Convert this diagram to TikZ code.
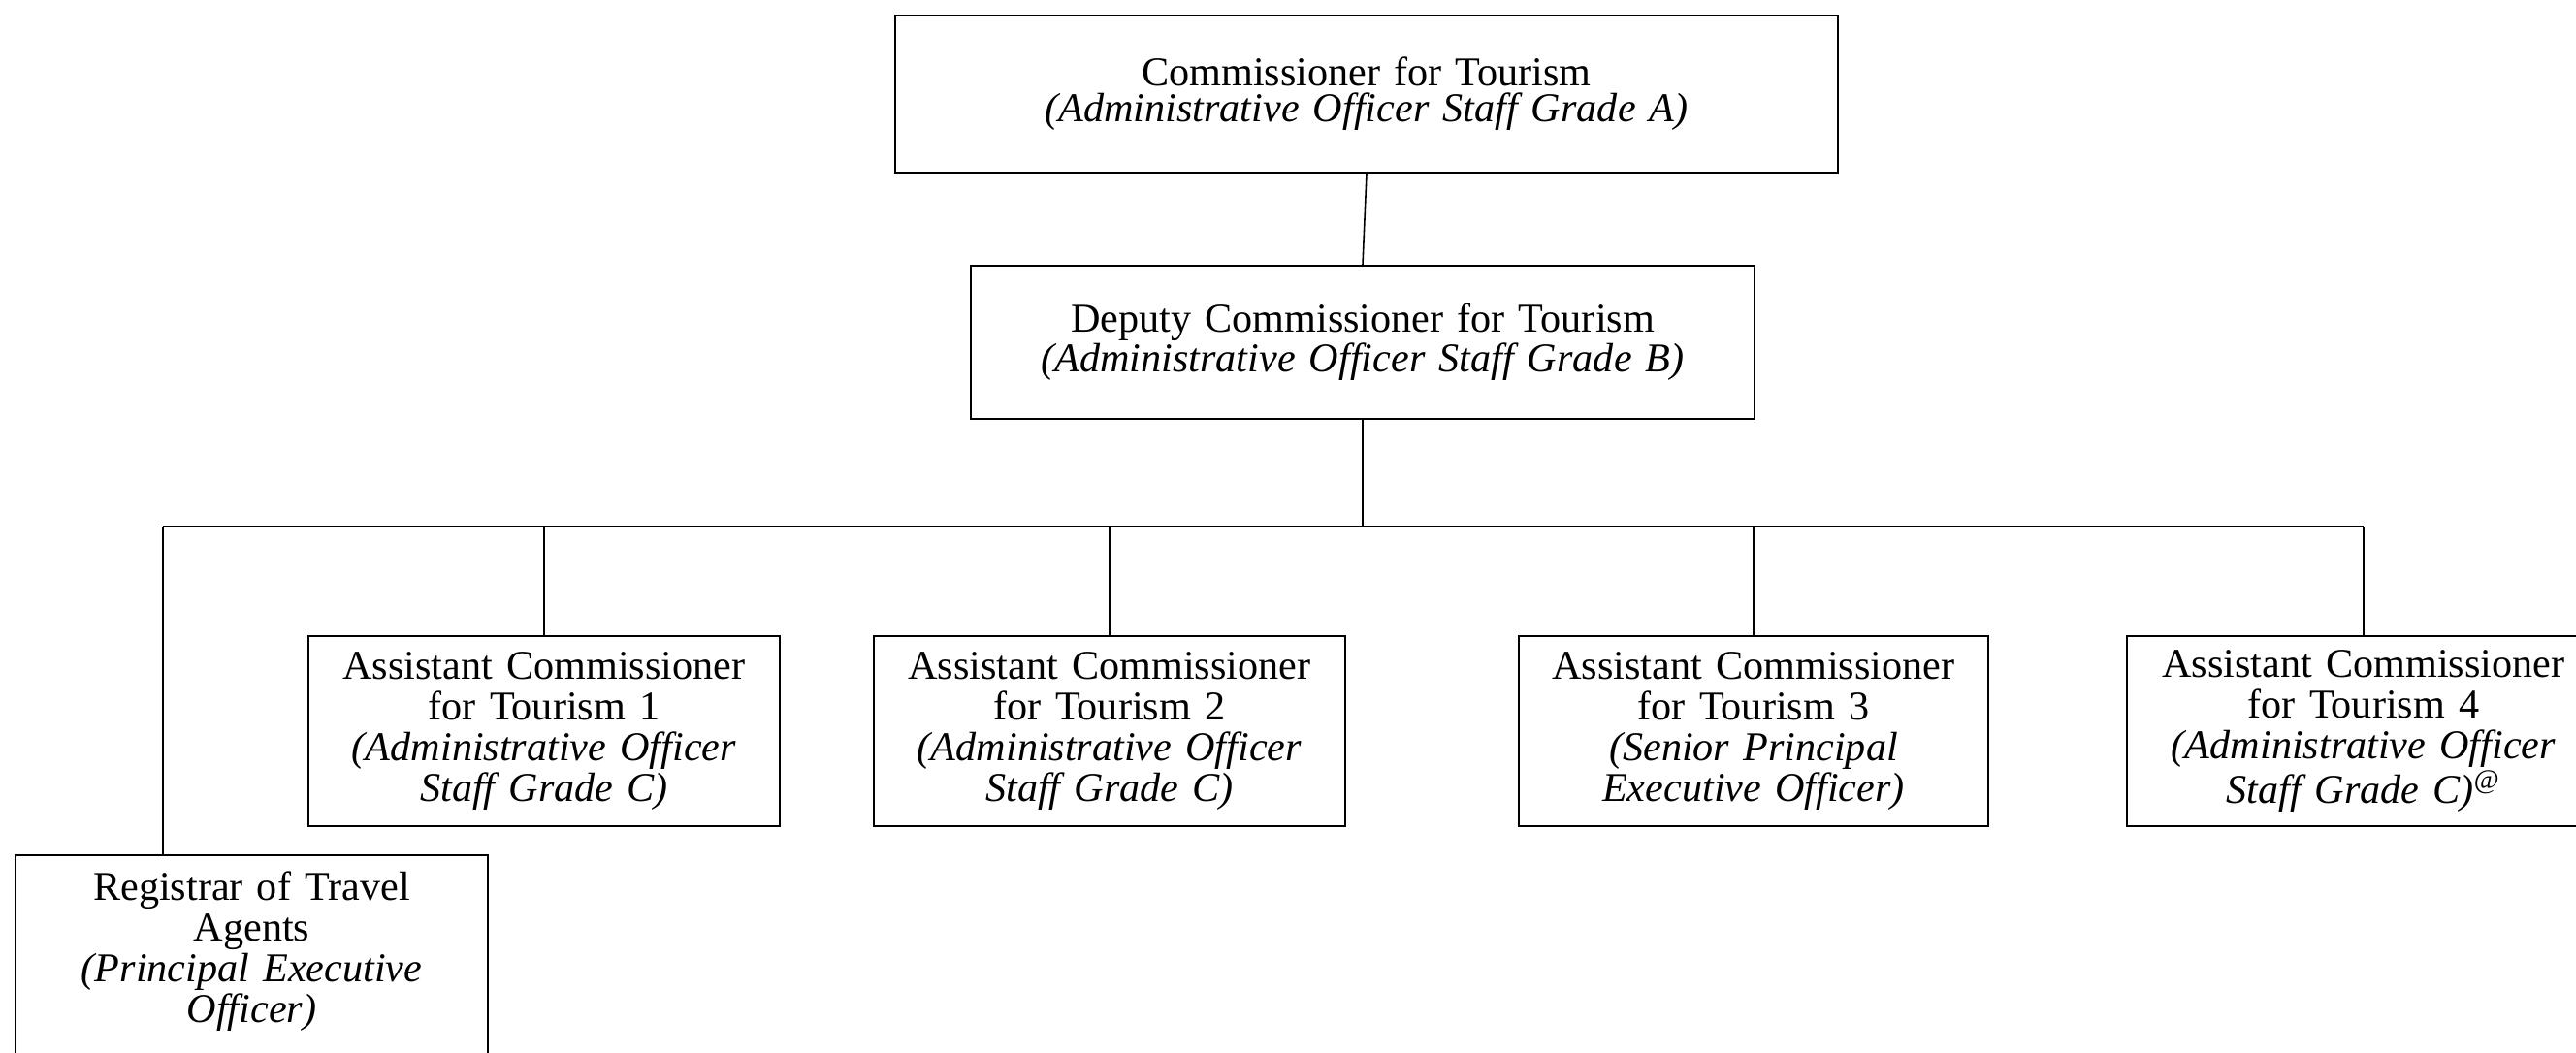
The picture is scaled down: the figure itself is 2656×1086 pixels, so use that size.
\documentclass[tikz,border=0pt]{standalone}
\usepackage{fontspec}
\setmainfont{Liberation Serif}
\usetikzlibrary{positioning}
\tikzset{orgbox/.style={draw, line width=.6pt, inner sep=0pt, align=center, font=\fontsize{12pt}{11.9pt}\selectfont}}
\tikzset{acbox/.style={orgbox, minimum width=4.86cm, text width=4.86cm, minimum height=1.96cm}}
\tikzset{link/.style={line width=.45pt}}

\begin{document}
\begin{tikzpicture}[x=0.01cm, y=-0.01cm]
  \useasboundingbox (0,0) rectangle (2656,1086);
  % top levels
  \node[orgbox, minimum width=9.72cm, text width=9.72cm, minimum height=1.62cm,
        font=\fontsize{12pt}{10.5pt}\selectfont] (comm) at (1409,97)
    {Commissioner for Tourism\\ \textit{(Administrative Officer Staff Grade A)}};
  \node[orgbox, minimum width=8.07cm, text width=8.07cm, minimum height=1.58cm,
        font=\fontsize{12pt}{11.6pt}\selectfont] (deputy) at (1405,353)
    {Deputy Commissioner for Tourism\\ \textit{(Administrative Officer Staff Grade B)}};
  % assistant commissioners
  \node[acbox] (ac1) at (561,754)
    {Assistant Commissioner\\ for Tourism 1\\ \textit{(Administrative Officer}\\ \textit{Staff Grade C)}};
  \node[acbox] (ac2) at (1144,754)
    {Assistant Commissioner\\ for Tourism 2\\ \textit{(Administrative Officer}\\ \textit{Staff Grade C)}};
  \node[acbox, minimum width=4.84cm, text width=4.84cm] (ac3) at (1808,754)
    {Assistant Commissioner\\ for Tourism 3\\ \textit{(Senior Principal}\\ \textit{Executive Officer)}};
  \node[acbox, minimum width=4.88cm, text width=4.88cm] (ac4) at (2437,754)
    {Assistant Commissioner\\ for Tourism 4\\ \textit{(Administrative Officer}\\ \textit{Staff Grade C)}\textsuperscript{@}};
  % registrar, its box runs past the bottom edge
  \node[acbox, draw=none, minimum width=4.85cm, text width=4.85cm] (reg) at (259.5,981)
    {Registrar of Travel\\ Agents\\ \textit{(Principal Executive}\\ \textit{Officer)}};
  \coordinate (pagebot) at (0,1120);
  \draw[line width=.6pt] (reg.north west) rectangle (reg.east |- pagebot);
  % connectors
  \coordinate (hub) at (1405,543);
  \coordinate (regdrop) at (168,543);
  \draw[link] (comm.south) -- (deputy.north);
  \draw[link] (deputy.south) -- (hub);
  \draw[link] (regdrop) -- (hub -| ac4.north);
  \draw[link] (regdrop) -- (regdrop |- reg.north);
  \foreach \n in {ac1,ac2,ac3,ac4}
    \draw[link] (hub -| \n.north) -- (\n.north);
\end{tikzpicture}
\end{document}
